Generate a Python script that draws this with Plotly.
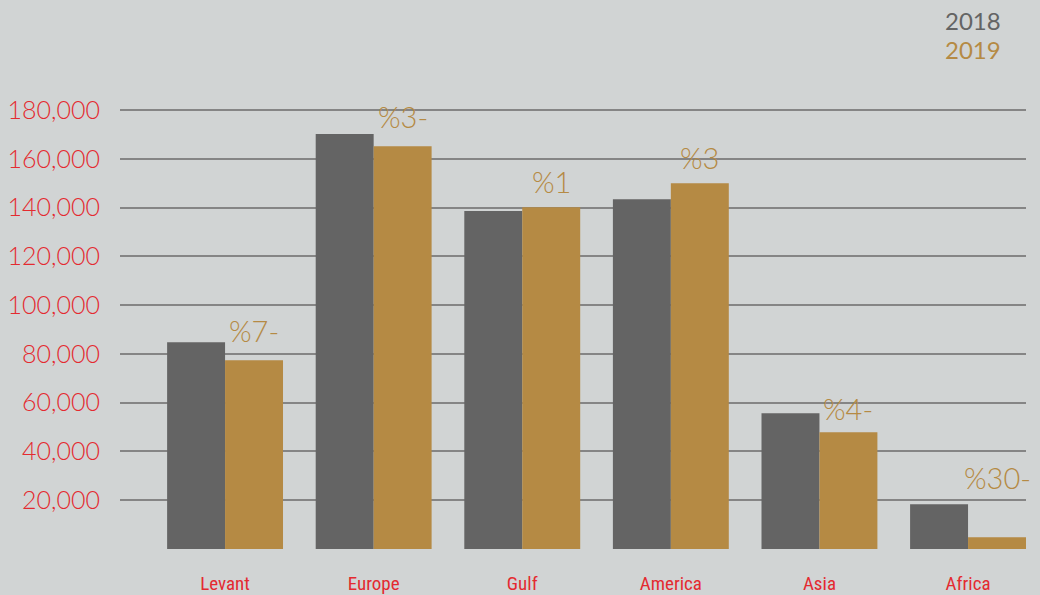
import plotly.graph_objects as go

regions = ["Levant", "Europe", "Gulf", "America", "Asia", "Africa"]
series_names = ["2018", "2019"]
values_2018 = [84800, 170200, 138600, 143500, 55700, 18400]
values_2019 = [77400, 165200, 140200, 150000, 47900, 4800]
change_labels = ["%7-", "%3-", "%1", "%3", "%4-", "%30-"]
y_ticks = [20000, 40000, 60000, 80000, 100000, 120000, 140000, 160000, 180000]
y_tick_text = ["20,000", "40,000", "60,000", "80,000", "100,000", "120,000", "140,000", "160,000", "180,000"]

# style
label_gap_px = [10, 10, 6, 6, 4, 40]
GRAY = "#646464"
GOLD = "#b58a44"
RED = "#e42a30"
BG = "#d1d4d4"

fig = go.Figure()
fig.add_trace(go.Bar(x=regions, y=values_2018, name=series_names[0],
                     marker=dict(color=GRAY, line=dict(width=0))))
fig.add_trace(go.Bar(x=regions, y=values_2019, name=series_names[1],
                     marker=dict(color=GOLD, line=dict(width=0))))

annotations = []
for i, (r, v, t) in enumerate(zip(regions, values_2019, change_labels)):
    annotations.append(dict(
        x=i, y=v, xref="x", yref="y", text=t, showarrow=False,
        xshift=29, yshift=label_gap_px[i], yanchor="bottom", xanchor="center",
        font=dict(family="Lato, 'Open Sans', sans-serif", size=29, color=GOLD, weight=300),
    ))

# legend as coloured text
for k, (name, col) in enumerate(zip(series_names, [GRAY, GOLD])):
    annotations.append(dict(
        x=1003, y=20 + 29 * k, xref="paper", yref="paper", text=name, showarrow=False,
        xanchor="right", yanchor="middle",
        font=dict(family="Lato, 'Open Sans', sans-serif", size=24, color=col),
    ))

fig.update_layout(
    width=1040, height=595,
    margin=dict(l=120, r=14, t=98, b=46, pad=0, autoexpand=False),
    paper_bgcolor=BG, plot_bgcolor=BG,
    barmode="group", bargap=0.22, bargroupgap=0,
    showlegend=False,
    annotations=annotations,
    xaxis=dict(
        type="category", range=[-0.707, 5.39], showgrid=False, zeroline=False,
        showline=False, ticks="", ticklabelstandoff=21, automargin=False,
        tickfont=dict(family="'Liberation Sans Narrow', 'Roboto Condensed', 'Arial Narrow', sans-serif",
                      size=19, color=RED),
    ),
    yaxis=dict(
        range=[0, 185000], tickvals=y_ticks, ticktext=y_tick_text,
        showgrid=True, gridcolor="#858585", gridwidth=1.5, zeroline=False,
        showline=False, ticks="", ticklabelstandoff=19, automargin=False,
        tickfont=dict(family="Lato, 'Open Sans', sans-serif", size=25, color=RED, weight=300),
    ),
)

# convert legend annotation positions from pixels to paper coords
plot_w = 1040 - 120 - 14
plot_h = 595 - 98 - 46
for a in fig.layout.annotations:
    if a.xref == "paper":
        a.x = (a.x - 120) / plot_w
        a.y = (595 - 46 - a.y) / plot_h

fig.write_html(
    "out.html",
    config={"displayModeBar": False},
    post_script="document.body.style.margin='0';document.body.style.background='" + BG + "';",
)
